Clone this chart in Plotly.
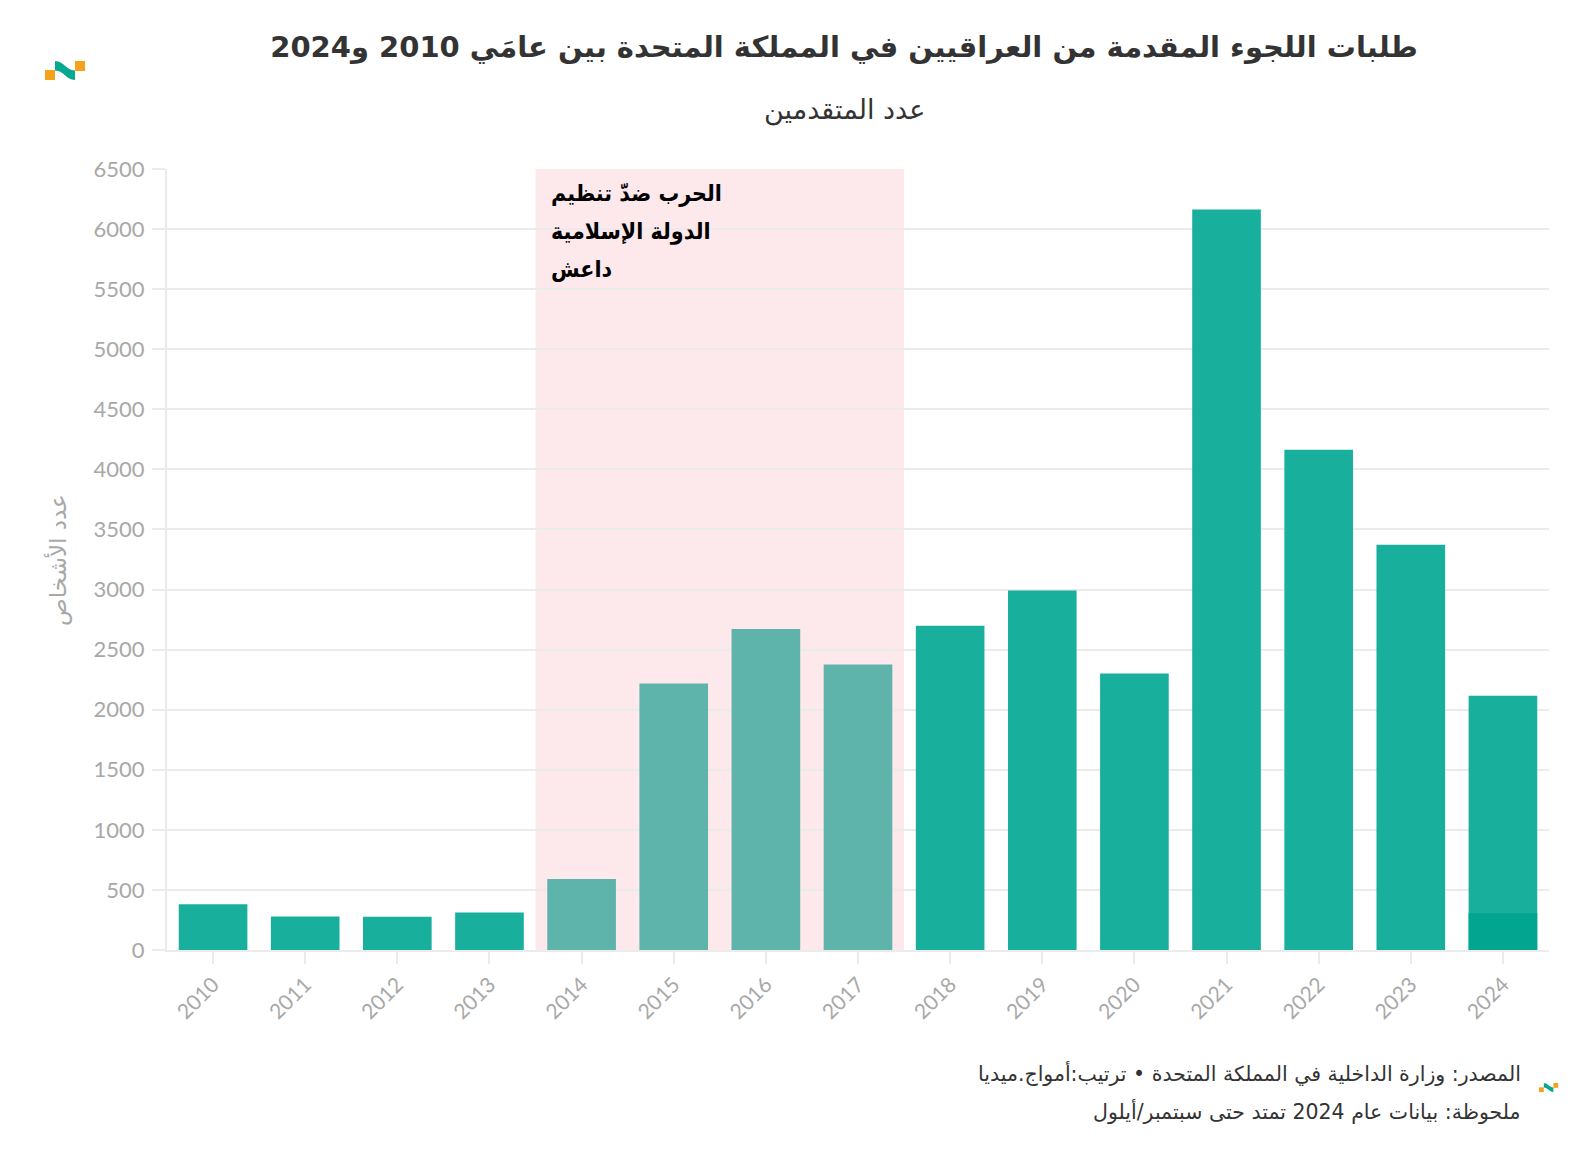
import plotly.graph_objects as go

# ---------------- data ----------------
years = [2010, 2011, 2012, 2013, 2014, 2015, 2016, 2017, 2018, 2019, 2020, 2021, 2022, 2023, 2024]
applications = [380, 278, 276, 312, 590, 2217, 2672, 2377, 2698, 2993, 2301, 6162, 4164, 3372, 2116]
isis_war_years = [2014, 2015, 2016, 2017]
highlight_year = [2024]
highlight_value = [305]
y_ticks = [0, 500, 1000, 1500, 2000, 2500, 3000, 3500, 4000, 4500, 5000, 5500, 6000, 6500]

title_text = "طلبات اللجوء المقدمة من العراقيين في المملكة المتحدة بين عامَي 2010 و2024"
subtitle_text = "عدد المتقدمين"
y_title_text = "عدد الأشخاص"
band_lines = ["الحرب ضدّ تنظيم", "الدولة الإسلامية", "داعش"]
source_text = "المصدر: وزارة الداخلية في المملكة المتحدة • ترتيب:أمواج.ميديا"
note_text = "ملحوظة: بيانات عام 2024 تمتد حتى سبتمبر/أيلول"

# ---------------- style ----------------
W, H = 1590, 1150
L, R, T, B = 159, 1541, 161, 942  # plot area in px
MAIN = "#19af9d"
MUTED = "#5eb3aa"
DARK = "#02a690"
PINK = "#fde8eb"
GRID = "#ebebeb"
GREY = "#a8a8a8"
ORANGE = "#f6a11a"
LOGO_TEAL = "#04a98f"
AR_FONT = "DejaVu Sans, Noto Sans, sans-serif"
NUM_FONT = "Lato, Open Sans, sans-serif"


def px(x):
    return (x - L) / (R - L)


def py(y):
    return (B - y) / (B - T)


bar_colors = [MUTED if y in isis_war_years else MAIN for y in years]

fig = go.Figure()
fig.add_trace(go.Bar(x=years, y=applications, marker=dict(color=bar_colors, line=dict(width=0)),
                     width=0.745, hoverinfo="x+y", showlegend=False))
fig.add_trace(go.Bar(x=highlight_year, y=highlight_value, marker=dict(color=DARK, line=dict(width=0)),
                     width=0.745, showlegend=False, hoverinfo="x+y"))

shapes = []
shapes.append(dict(type="rect", xref="x", yref="y", x0=isis_war_years[0] - 0.5, x1=isis_war_years[-1] + 0.5,
                   y0=0, y1=y_ticks[-1], fillcolor=PINK, line=dict(width=0), layer="below"))


def logo(x0, y0, s):
    out = []

    def P(a, b):
        return f"{px(x0 + a * s):.5f},{py(y0 + b * s):.5f}"
    out.append(dict(type="path", xref="paper", yref="paper",
                    path=f"M{P(0,9)} L{P(10,9)} L{P(10,19)} L{P(0,19)} Z",
                    fillcolor=ORANGE, line=dict(width=0), layer="above"))
    out.append(dict(type="path", xref="paper", yref="paper",
                    path=f"M{P(30,0)} L{P(40,0)} L{P(40,10)} L{P(30,10)} Z",
                    fillcolor=ORANGE, line=dict(width=0), layer="above"))
    out.append(dict(type="path", xref="paper", yref="paper",
                    path=(f"M{P(10,0)} C{P(19,0)} {P(21,9.5)} {P(30,9.5)} L{P(30,19)} "
                          f"C{P(21,19)} {P(19,9.5)} {P(10,9.5)} Z"),
                    fillcolor=LOGO_TEAL, line=dict(width=0), layer="above"))
    return out


shapes += logo(37, 53, 1.0)
shapes += logo(1531, 1075, 0.48)

annotations = [
    dict(text=subtitle_text, xref="paper", yref="paper", x=px(836), y=py(102), xanchor="center",
         yanchor="middle", showarrow=False, font=dict(family=AR_FONT, size=27, color="#333333")),
    dict(text=y_title_text, xref="paper", yref="paper", x=px(50), y=py(552), xanchor="center",
         yanchor="middle", textangle=-90, showarrow=False, font=dict(family=AR_FONT, size=23, color=GREY)),
    dict(text=source_text, xref="paper", yref="paper", x=px(1515), y=py(1065), xanchor="right",
         yanchor="middle", showarrow=False, font=dict(family=AR_FONT, size=20.5, color="#333333")),
    dict(text=note_text, xref="paper", yref="paper", x=px(1515), y=py(1103), xanchor="right",
         yanchor="middle", showarrow=False, font=dict(family=AR_FONT, size=20.5, color="#333333")),
]
for i, line in enumerate(band_lines):
    annotations.append(dict(text="<b>" + line + "</b>", xref="paper", yref="paper",
                            x=px(541), y=py(185.5 + 37.5 * i), xanchor="left", yanchor="middle",
                            align="left", showarrow=False,
                            font=dict(family="DejaVu Sans Condensed, DejaVu Sans, sans-serif", size=23,
                                      color="#000000")))

fig.update_layout(
    width=W, height=H,
    margin=dict(l=L, r=W - R, t=T, b=H - B, pad=0),
    paper_bgcolor="white", plot_bgcolor="white",
    barmode="overlay",
    title=dict(text="<b>" + title_text + "</b>", x=836 / W, xanchor="center", y=1 - 39 / H, yanchor="middle",
               font=dict(family=AR_FONT, size=29, color="#333333")),
    shapes=shapes,
    annotations=annotations,
)
fig.update_xaxes(range=[years[0] - 0.5, years[-1] + 0.5], tickmode="array", tickvals=years,
                 ticktext=[str(y) for y in years], tickangle=-45,
                 tickfont=dict(family=NUM_FONT, size=21, color=GREY),
                 ticks="outside", ticklen=12, tickwidth=2, tickcolor=GRID,
                 showgrid=False, showline=True, linecolor=GRID, linewidth=2, zeroline=False, fixedrange=True)
fig.update_yaxes(range=[0, y_ticks[-1]], tickmode="array", tickvals=y_ticks,
                 tickfont=dict(family=NUM_FONT, size=22, color=GREY),
                 ticks="outside", ticklen=13, tickwidth=2, tickcolor=GRID, ticklabelstandoff=3,
                 showgrid=True, gridcolor=GRID, gridwidth=2,
                 showline=True, linecolor=GRID, linewidth=2, zeroline=False, fixedrange=True)

fig.write_html("out.html")
